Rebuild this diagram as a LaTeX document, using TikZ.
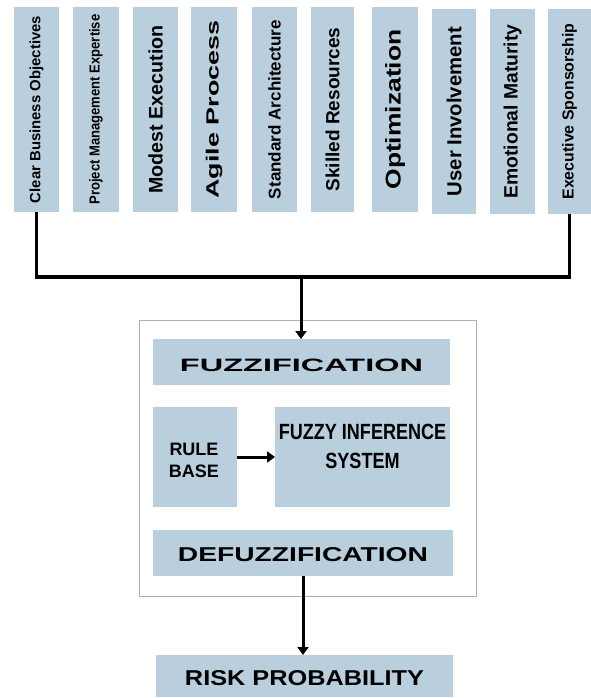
\documentclass[tikz,border=0pt]{standalone}
\usepackage{fontspec}
\setmainfont{Liberation Sans}
\usetikzlibrary{arrows.meta}
\definecolor{boxblue}{RGB}{185,207,221}
\definecolor{framegray}{RGB}{175,175,175}
\newcommand{\toplab}[2]{\rotatebox{90}{\resizebox{#1pt}{!}{\bfseries #2}}}
\newcommand{\toplabxy}[3]{\rotatebox{90}{\resizebox{#1pt}{#2pt}{\bfseries #3}}}
% lowered caps text that keeps its nominal box
\newcommand{\capstext}[4]{\raisebox{-#1pt}[#3pt][0pt]{\resizebox{#2pt}{#3pt}{\bfseries #4}}}
\begin{document}
\begin{tikzpicture}[x=1pt,y=-1pt,
  box/.style={fill=boxblue, draw=none, inner sep=0pt, outer sep=0pt, anchor=north west},
  factor/.style={box, minimum width=45pt, minimum height=205pt},
  frame/.style={draw=framegray, line width=0.9pt, inner sep=0pt, outer sep=0pt, anchor=north west},
  conn/.style={line width=3.6pt, black, line join=miter},
  arr/.style={line width=3pt, black, -{Triangle[length=8pt,width=11pt]}}]
\useasboundingbox (0,0) rectangle (591,698);

% factor boxes
\node[factor] (b1) at (14,7) {\toplab{187}{Clear Business Objectives}};
\node[factor, minimum width=46pt] (b2) at (73,7) {\toplabxy{190}{10.5}{Project Management Expertise}};
\node[factor] (b3) at (133,7) {\toplab{168}{Modest Execution}};
\node[factor, minimum width=46pt] (b4) at (191,7) {\toplabxy{178}{12.8}{Agile Process}};
\node[factor] (b5) at (252,7) {\toplab{179}{Standard Architecture}};
\node[factor, minimum width=43pt] (b6) at (311,7) {\toplab{164}{Skilled Resources}};
\node[factor, minimum width=46pt] (b7) at (372,7) {\toplabxy{160}{15.5}{Optimization}};
\node[factor, minimum width=44pt] (b8) at (432,9) {\toplab{169}{User Involvement}};
\node[factor] (b9) at (490,9) {\toplab{174}{Emotional Maturity}};
\node[factor, minimum width=43pt] (b10) at (548,9) {\toplab{176}{Executive Sponsorship}};

% fuzzy system frame
\node[frame, minimum width=337pt, minimum height=276pt] (outer) at (139,320) {};

\node[box, minimum width=297pt, minimum height=46pt] (fuzz) at (153,339)
  {\capstext{3.5}{243}{12.5}{FUZZIFICATION}};
\node[box, minimum width=84pt, minimum height=100pt] (rb) at (153,407) {};
\node[inner sep=0pt, align=center, font=\fontsize{18}{22}\selectfont\bfseries]
  (rbt) at (194,460.5) {RULE\\BASE};
\node[box, minimum width=175pt, minimum height=100pt] (fis) at (275,407) {};
\node[inner sep=0pt, align=center, font=\fontsize{22}{29}\selectfont\bfseries]
  (fist) at (362.5,446.5) {\scalebox{0.82}[1]{FUZZY INFERENCE}\\\scalebox{0.82}[1]{SYSTEM}};
\node[box, minimum width=300pt, minimum height=46pt] (defuzz) at (153,530)
  {\capstext{1.5}{250}{14}{DEFUZZIFICATION}};
\node[box, minimum width=297pt, minimum height=42pt] (risk) at (156,655)
  {\capstext{2}{239}{15}{RISK PROBABILITY}};

% connectors
\coordinate (j) at (301,277);
\draw[conn] (b1.south) |- (j) -| (b10.south);
\draw[arr] (j) -- (j |- fuzz.north);
\draw[arr] (rb) -- (fis);
\draw[arr] (defuzz.south) -- (defuzz.south |- risk.north);
\end{tikzpicture}
\end{document}
